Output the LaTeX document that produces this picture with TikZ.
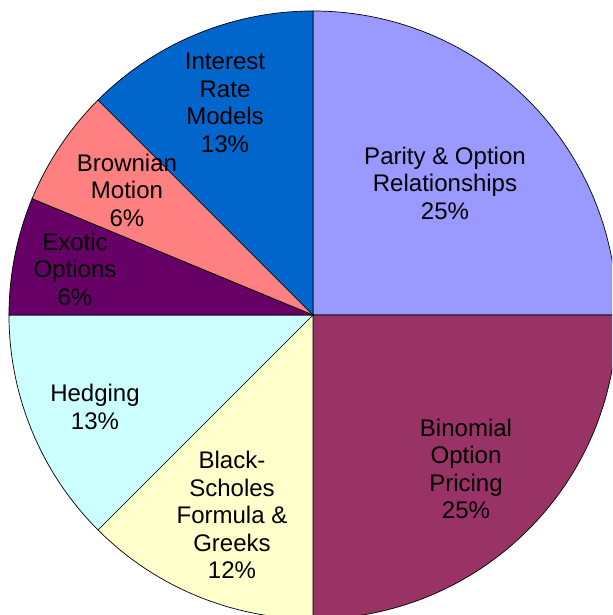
\documentclass[tikz,border=0pt]{standalone}
\usepackage{fontspec}
\setmainfont{Liberation Sans}
\definecolor{parity}{HTML}{9999FF}
\definecolor{binomial}{HTML}{993366}
\definecolor{blackscholes}{HTML}{FFFFCC}
\definecolor{hedging}{HTML}{CCFFFF}
\definecolor{exotic}{HTML}{660066}
\definecolor{brownian}{HTML}{FF8080}
\definecolor{interest}{HTML}{0066CC}
\begin{document}
\begin{tikzpicture}[x=0.03cm, y=0.03cm, slice/.style={draw=black, line width=0.6pt}, label node/.style={font=\fontsize{20.5}{23.5}\selectfont, align=center, text=black, inner sep=0pt}]
\useasboundingbox (-313,-300) rectangle (299,315);
\clip (-313,-300) rectangle (299,315);
\coordinate (c) at (0,0);
\filldraw [slice, fill=parity] (c) -- (90:9.12cm) arc[start angle=90, end angle=0, radius=9.12cm] -- cycle;
\filldraw [slice, fill=binomial] (c) -- (0:9.12cm) arc[start angle=0, end angle=-90, radius=9.12cm] -- cycle;
\filldraw [slice, fill=blackscholes] (c) -- (-90:9.12cm) arc[start angle=-90, end angle=-135, radius=9.12cm] -- cycle;
\filldraw [slice, fill=hedging] (c) -- (-135:9.12cm) arc[start angle=-135, end angle=-180, radius=9.12cm] -- cycle;
\filldraw [slice, fill=exotic] (c) -- (180:9.12cm) arc[start angle=180, end angle=157.5, radius=9.12cm] -- cycle;
\filldraw [slice, fill=brownian] (c) -- (157.5:9.12cm) arc[start angle=157.5, end angle=135, radius=9.12cm] -- cycle;
\filldraw [slice, fill=interest] (c) -- (135:9.12cm) arc[start angle=135, end angle=90, radius=9.12cm] -- cycle;
\begin{scope}[every node/.style={label node}]
\node (parityl) at (132,132) {Parity \& Option\\Relationships\\25\%};
\node (binomiall) at (153,-154) {Binomial\\Option\\Pricing\\25\%};
\node (blackl) at (-81,-200) {Black-\\Scholes\\Formula \&\\Greeks\\12\%};
\node (hedgingl) at (-218,-92) {Hedging\\13\%};
\node (exoticl) at (-238,46) {Exotic\\Options\\6\%};
\node (brownianl) at (-186,125) {Brownian\\Motion\\6\%};
\node (interestl) at (-88,212) {Interest\\Rate\\Models\\13\%};
\end{scope}
\end{tikzpicture}
\end{document}
